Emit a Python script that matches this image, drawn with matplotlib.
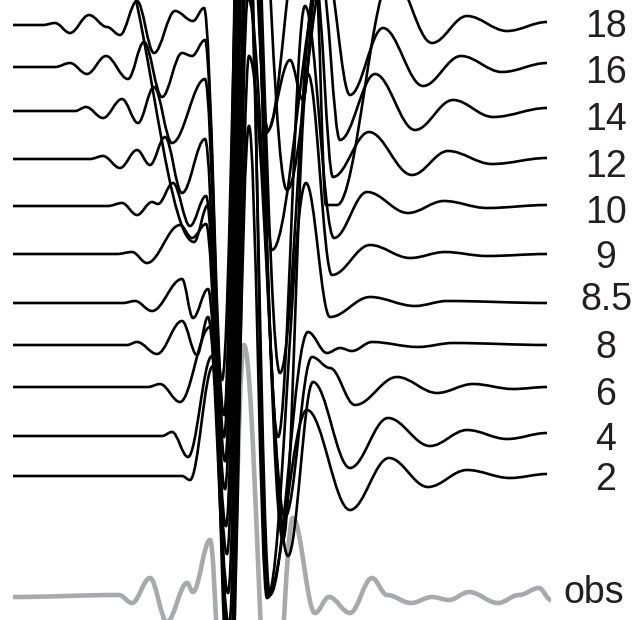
# Synthetic traces vs observed waveform, stacked by label
import matplotlib
matplotlib.use("Agg")
import matplotlib.pyplot as plt
from matplotlib.path import Path
from matplotlib.patches import PathPatch

# trace labels (top to bottom) and their baseline heights (same units as the plot, 0 = bottom)
labels = ["18", "16", "14", "12", "10", "9", "8.5", "8", "6", "4", "2"]
baselines = [595, 553, 509, 461, 414, 366, 317, 275, 233, 184, 144]
label_y = [583, 537, 490, 443, 397, 352, 310, 262, 215, 170, 130]

# extrema of each trace: time and amplitude
t_20 = [13, 80, 112, 194, 208, 222, 244, 268, 300, 340, 547]
a_20 = [0, 0, 40, -262, -225, -400, 200, -150, 50, 0, 0]
base_20 = 640  # trace above the crop, only its big trough shows

t_18 = [13, 43, 55, 70, 89, 107, 120, 137, 154, 175, 193, 204, 224, 245, 266, 290, 303, 316, 326, 337, 392, 432, 467, 507, 547]
a_18 = [0, 0, 2, -8, 10, -2, -10, 24, -28, 14, 4, 17, -390, 450, -108, -35, -75, 40, -180, -180, 50, -18, 9, -6, 3]

t_16 = [13, 55, 70, 87, 106, 128, 144, 162, 182, 192, 205, 224, 245, 287, 326, 350, 383, 423, 461, 502, 547]
a_16 = [0, 0, 4, -7, 11, -12, 25, -30, 14, 11, 27, -370, 450, -123, 100, -28, 39, -19, 11, -5, 4]

t_14 = [13, 75, 86, 103, 122, 138, 154, 172, 205, 225, 246, 272, 322, 340, 375, 415, 453, 493, 547]
a_14 = [0, 0, 4, -7, 12, -12, 24, -32, 32, -350, 450, -139, 130, -29, 37, -19, 11, -6, 3]

t_12 = [13, 90, 103, 120, 137, 150, 165, 182, 205, 225, 246, 280, 316, 333, 369, 412, 448, 492, 547]
a_12 = [0, 0, 3, -9, 9, -6, 22, -34, 20, -330, 450, -214, 175, -18, 27, -16, 8, -5, 1]

t_10 = [13, 108, 122, 137, 152, 158, 173, 190, 206, 226, 247, 278, 305, 334, 367, 408, 444, 487, 547]
a_10 = [0, 0, 3, -9, 4, 2, 23, -20, 10, -320, 440, -231, 200, -32, 14, -7, 5, -2, 1]

t_9 = [13, 117, 132, 147, 180, 192, 206, 227, 247, 283, 308, 332, 370, 410, 445, 487, 547]
a_9 = [0, 0, 2, -9, 29, 16, 30, -300, 430, -286, 180, -21, 9, -4, 2, -2, 0]

t_85 = [13, 123, 135, 152, 182, 193, 208, 228, 248, 268, 306, 330, 370, 415, 447, 547]
a_85 = [0, 0, 2, -8, 24, -15, 14, -290, 420, -292, 120, -14, 6, -3, 2, 0]

t_8 = [13, 127, 137, 157, 182, 197, 208, 229, 248, 270, 308, 327, 340, 352, 372, 418, 453, 547]
a_8 = [0, 0, 3, -9, 24, -10, 28, -280, 400, -250, 13, -8, -3, -6, 3, -2, 2, 0]

t_6 = [13, 148, 160, 180, 210, 230, 248, 285, 312, 330, 355, 397, 437, 473, 513, 547]
a_6 = [0, 0, 3, -15, 60, -270, 390, -130, 30, 19, -18, 10, -6, 3, -2, 0]

t_4 = [13, 162, 172, 188, 212, 231, 249, 288, 313, 350, 388, 430, 467, 507, 547]
a_4 = [0, 0, 4, -21, 80, -250, 380, -120, 54, -32, 18, -10, 6, -3, 3]

t_2 = [13, 182, 190, 213, 229, 249, 267, 307, 350, 389, 428, 467, 510, 547]
a_2 = [0, 0, -4, 110, -230, 350, -122, 66, -34, 18, -11, 6, -2, 2]

# observed record (grey)
t_obs = [13, 119, 132, 150, 167, 187, 193, 210, 226, 244, 272, 293, 315, 329, 350, 372, 387, 411, 432, 449, 469, 498, 519, 539, 551]
a_obs = [0, 2, -6, 19, -25, 14, 5, 57, -200, 252, -180, 79, -16, 0, -16, 19, 2, -6, 0, -3, 5, -6, 2, 9, -3]
base_obs = 23


def wave_path(t, a, base, k=0.36):
    # smooth curve through the extrema, flat tangent at each one
    verts = [(t[0], base + a[0])]
    codes = [Path.MOVETO]
    for i in range(len(t) - 1):
        dx = t[i + 1] - t[i]
        verts += [(t[i] + k * dx, base + a[i]),
                  (t[i + 1] - k * dx, base + a[i + 1]),
                  (t[i + 1], base + a[i + 1])]
        codes += [Path.CURVE4] * 3
    return Path(verts, codes)


fig = plt.figure(figsize=(6.38, 6.2), dpi=100)
ax = fig.add_axes([0, 0, 1, 1])
ax.set_xlim(0, 638)
ax.set_ylim(0, 620)
ax.axis("off")

grey = "#a7a9ac"
ax.add_patch(PathPatch(wave_path(t_obs, a_obs, base_obs), fc="none", ec=grey, lw=3.3, zorder=1))

traces = [(t_18, a_18), (t_16, a_16), (t_14, a_14), (t_12, a_12), (t_10, a_10), (t_9, a_9),
          (t_85, a_85), (t_8, a_8), (t_6, a_6), (t_4, a_4), (t_2, a_2)]
ax.add_patch(PathPatch(wave_path(t_20, a_20, base_20), fc="none", ec="black", lw=1.9, zorder=2))
for (t, a), b in zip(traces, baselines):
    ax.add_patch(PathPatch(wave_path(t, a, b), fc="none", ec="black", lw=1.9, zorder=2))

for lab, y in zip(labels, label_y):
    ax.text(606, y, lab, ha="center", va="baseline", fontsize=27,
            family="Liberation Sans", color="#231f20")
ax.text(594, 17, "obs", ha="center", va="baseline", fontsize=27,
        family="Liberation Sans", color="#231f20")

fig.savefig("out.png", dpi=100)
